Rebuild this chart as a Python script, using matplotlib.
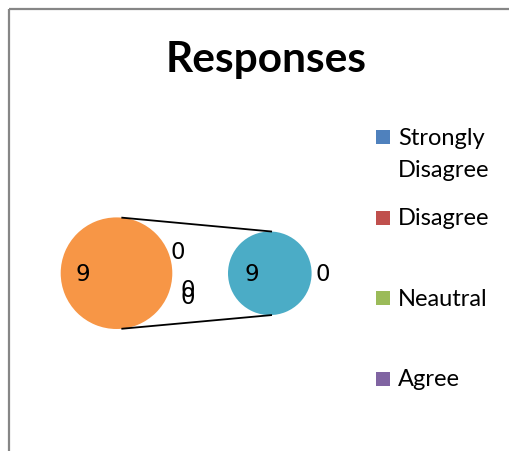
import matplotlib
matplotlib.use("Agg")
import matplotlib.pyplot as plt
from matplotlib.patches import Rectangle
import numpy as np

# ---- data ----
categories = ["Strongly Disagree", "Disagree", "Neautral", "Agree", "Strongly Agree"]
values = [0, 0, 0, 0, 9]
n_main = 3  # first 3 points in main pie, rest in secondary pie
title = "Responses"
legend_labels = [["Strongly", "Disagree"], ["Disagree"], ["Neautral"], ["Agree"]]

# ---- styles ----
colors = ["#4F81BD", "#C0504D", "#9BBB59", "#8064A2", "#4BACC6"]
other_color = "#F79646"

main_vals = values[:n_main] + [sum(values[n_main:])]
main_cols = colors[:n_main] + [other_color]
sec_vals = values[n_main:]
sec_cols = colors[n_main:]

fig = plt.figure(figsize=(5.10, 4.52), dpi=100)
ax = fig.add_axes([0, 0, 1, 1])

c1, r1 = (116.5, 274.2), 55.8
c2, r2 = (269.8, 274.3), 41.8

ax.pie(main_vals, colors=main_cols, center=c1, radius=r1, startangle=0,
       wedgeprops=dict(linewidth=0), frame=True)
ax.pie(sec_vals, colors=sec_cols, center=c2, radius=r2, startangle=0,
       wedgeprops=dict(linewidth=0), frame=True)
ax.set_xlim(0, 510)
ax.set_ylim(452, 0)
ax.set_aspect("equal")
ax.axis("off")

# chart border (clipped on right/bottom)
ax.add_patch(Rectangle((9.5, 9.5), 520, 460, fill=False, edgecolor="#868686", lw=1.6))

ax.text(266, 72, title, fontsize=30.5, fontweight="bold", family="Lato",
        ha="center", va="baseline", color="black")

# connector lines
a1, a2 = np.deg2rad(85), np.deg2rad(87)
for s in (1, -1):
    p1 = (c1[0] + r1 * np.cos(a1), c1[1] - s * r1 * np.sin(a1))
    p2 = (c2[0] + r2 * np.cos(a2), c2[1] - s * r2 * np.sin(a2))
    ax.plot([p1[0], p2[0]], [p1[1], p2[1]], color="black", lw=1.3, solid_capstyle="butt")

# data labels (angle deg, distance in radii)
main_lab_pos = [(19.9, 1.17), (-12.8, 1.31), (-18.0, 1.35), (180, 0.60)]
sec_lab_pos = [(0, 1.27), (180, 0.43)]
for vals, pos, c, r in ((main_vals, main_lab_pos, c1, r1), (sec_vals, sec_lab_pos, c2, r2)):
    for v, (ang, d) in zip(vals, pos):
        t = np.deg2rad(ang)
        ax.text(c[0] + d * r * np.cos(t), c[1] - d * r * np.sin(t) + 7, str(v),
                fontsize=16.5, family="DejaVu Sans", ha="center", va="baseline")

# legend
for i, lines in enumerate(legend_labels):
    y0 = 145 + i * 80.5
    ax.add_patch(Rectangle((376.5, y0 - 14), 14, 14, facecolor=colors[i], edgecolor="none"))
    for j, line in enumerate(lines):
        ax.text(398, y0 + j * 32, line, fontsize=17, family="Lato",
                ha="left", va="baseline", color="black")

fig.savefig("out.png", dpi=100)
